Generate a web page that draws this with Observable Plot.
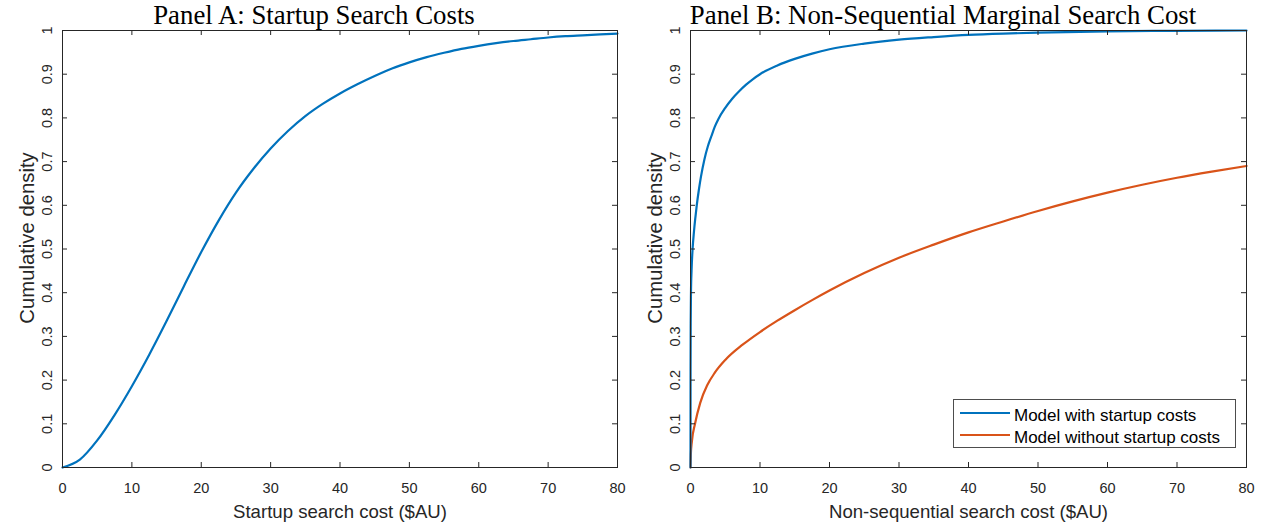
<!DOCTYPE html>
<html>
<head>
<meta charset="utf-8">
<script src="https://cdn.jsdelivr.net/npm/d3@7"></script>
<script src="https://cdn.jsdelivr.net/npm/@observablehq/plot@0.6"></script>
<style>
  body { margin: 0; background: #fff; }
  #wrap { position: relative; width: 1273px; height: 529px; overflow: hidden; background: #fff; }
  .panel { position: absolute; top: 0; }
  .title { position: absolute; top: 0; font-family: "Liberation Serif", "Times New Roman", serif; font-size: 26.8px; line-height: 30px; color: #000; white-space: nowrap; text-align: center; }
  #legend { position: absolute; left: 953px; top: 399px; width: 283px; height: 49px; border: 1px solid #4d4d4d; background: #fff; box-sizing: border-box; }
  #legend svg { position: absolute; left: 0; top: 0; }
</style>
</head>
<body>
<div id="wrap"></div>
<script>
// ---------- data ----------
const xTicks = [0, 10, 20, 30, 40, 50, 60, 70, 80];
const yTicks = [0, 0.1, 0.2, 0.3, 0.4, 0.5, 0.6, 0.7, 0.8, 0.9, 1];
const yTickLabels = ["0", "0.1", "0.2", "0.3", "0.4", "0.5", "0.6", "0.7", "0.8", "0.9", "1"];

// Panel A: startup search cost CDF
const startupX = [0, 2.5, 5, 7.5, 10, 12.5, 15, 17.5, 20, 22.5, 25, 27.5, 30, 32.5, 35, 37.5, 40, 42.5, 45, 47.5, 50, 52.5, 55, 57.5, 60, 62.5, 65, 67.5, 70, 72.5, 75, 77.5, 80];
const startupY = [0, 0.018, 0.062, 0.12, 0.186, 0.258, 0.335, 0.415, 0.493, 0.565, 0.629, 0.683, 0.730, 0.770, 0.804, 0.832, 0.856, 0.877, 0.896, 0.913, 0.927, 0.939, 0.949, 0.958, 0.965, 0.971, 0.976, 0.980, 0.984, 0.987, 0.989, 0.991, 0.993];

// Panel B: model with startup costs
const withX = [0, 0.01, 0.03, 0.07, 0.15, 0.3, 0.5, 0.7, 0.9, 1.2, 1.5, 2, 2.5, 3, 3.5, 4, 5, 6, 7, 8, 9, 10, 12.5, 15, 17.5, 20, 25, 30, 35, 40, 45, 50, 60, 70, 80];
const withY = [0, 0.22, 0.33, 0.40, 0.45, 0.50, 0.54, 0.572, 0.60, 0.635, 0.665, 0.705, 0.735, 0.758, 0.78, 0.797, 0.823, 0.844, 0.861, 0.876, 0.889, 0.90, 0.92, 0.935, 0.947, 0.957, 0.97, 0.979, 0.985, 0.99, 0.993, 0.995, 0.998, 0.9993, 1.0];

// Panel B: model without startup costs
const withoutX = [0, 0.05, 0.2, 0.65, 1.4, 2.4, 3.5, 5, 7.5, 10, 12.5, 15, 17.5, 20, 25, 30, 35, 40, 45, 50, 55, 60, 65, 70, 75, 80];
const withoutY = [0, 0.03, 0.06, 0.10, 0.148, 0.188, 0.217, 0.246, 0.281, 0.31, 0.336, 0.36, 0.383, 0.405, 0.445, 0.48, 0.51, 0.538, 0.563, 0.587, 0.609, 0.629, 0.647, 0.663, 0.677, 0.69];

const seriesNames = ["Model with startup costs", "Model without startup costs"];
const seriesColors = ["#0072BD", "#D95319"];

const titles = ["Panel A: Startup Search Costs", "Panel B: Non-Sequential Marginal Search Cost"];
const xLabels = ["Startup search cost ($AU)", "Non-sequential search cost ($AU)"];
const yLabel = "Cumulative density";

// ---------- drawing ----------
const axisColor = "#262626";
const sans = "'Liberation Sans', Arial, Helvetica, sans-serif";
const H = 529, mTop = 30, mBottom = 62;
const plotH = H - mTop - mBottom;

function panel({width, mLeft, mRight, lines, xLabel}) {
  const plotW = width - mLeft - mRight;
  return Plot.plot({
    width, height: H,
    marginLeft: mLeft, marginRight: mRight, marginTop: mTop, marginBottom: mBottom,
    x: {domain: [0, 80], axis: null},
    y: {domain: [0, 1], axis: null},
    style: {fontFamily: sans, color: axisColor, background: "white", overflow: "visible"},
    marks: [
      ...lines.map(l => Plot.line(l.x.map((x, i) => ({x, y: l.y[i]})), {x: "x", y: "y", stroke: l.color, strokeWidth: 2.2, curve: "monotone-x"})),
      Plot.frame({stroke: axisColor, strokeWidth: 1}),
      // inward ticks on all four sides
      Plot.tickX(xTicks, {x: d => d, insetTop: plotH - 5, stroke: axisColor}),
      Plot.tickX(xTicks, {x: d => d, insetBottom: plotH - 5, stroke: axisColor}),
      Plot.tickY(yTicks, {y: d => d, insetRight: plotW - 5, stroke: axisColor}),
      Plot.tickY(yTicks, {y: d => d, insetLeft: plotW - 5, stroke: axisColor}),
      // tick labels
      Plot.text(xTicks, {x: d => d, frameAnchor: "bottom", dy: 25, lineAnchor: "bottom", textAnchor: "middle", text: d => String(d), fontSize: 14.5, fill: axisColor}),
      Plot.text(yTicks, {y: d => d, frameAnchor: "left", dx: -11, rotate: -90, lineAnchor: "bottom", textAnchor: "middle", text: (d, i) => yTickLabels[i], fontSize: 14.5, fill: axisColor}),
      // axis labels
      Plot.text([xLabel], {frameAnchor: "bottom", dy: 50, lineAnchor: "bottom", textAnchor: "middle", text: d => d, fontSize: 18.6, fill: axisColor}),
      Plot.text([yLabel], {frameAnchor: "left", dx: -29, dy: -11, rotate: -90, lineAnchor: "bottom", textAnchor: "middle", text: d => d, fontSize: 20.3, fill: axisColor})
    ]
  });
}

const wrap = document.getElementById("wrap");

const pA = panel({width: 636, mLeft: 62, mRight: 19, xLabel: xLabels[0],
  lines: [{x: startupX, y: startupY, color: seriesColors[0]}]});
pA.classList.add("panel"); pA.style.left = "0px";
wrap.appendChild(pA);

const pB = panel({width: 637, mLeft: 54, mRight: 27, xLabel: xLabels[1],
  lines: [{x: withoutX, y: withoutY, color: seriesColors[1]}, {x: withX, y: withY, color: seriesColors[0]}]});
pB.classList.add("panel"); pB.style.left = "636px";
wrap.appendChild(pB);

// titles
const titleCenters = [314, 943];
titles.forEach((t, i) => {
  const d = document.createElement("div");
  d.className = "title";
  d.textContent = t;
  d.style.left = (titleCenters[i] - 300) + "px";
  d.style.width = "600px";
  wrap.appendChild(d);
});

// legend
const leg = document.createElement("div");
leg.id = "legend";
const ns = "http://www.w3.org/2000/svg";
const lsvg = document.createElementNS(ns, "svg");
lsvg.setAttribute("width", 281); lsvg.setAttribute("height", 47);
seriesNames.forEach((name, i) => {
  const y = 13 + i * 22;
  const ln = document.createElementNS(ns, "line");
  ln.setAttribute("x1", 6); ln.setAttribute("x2", 56);
  ln.setAttribute("y1", y); ln.setAttribute("y2", y);
  ln.setAttribute("stroke", seriesColors[i]); ln.setAttribute("stroke-width", 2.2);
  lsvg.appendChild(ln);
  const tx = document.createElementNS(ns, "text");
  tx.setAttribute("x", 60); tx.setAttribute("y", y + 8);
  tx.setAttribute("font-family", "Liberation Sans, Arial, sans-serif");
  tx.setAttribute("font-size", 17);
  tx.setAttribute("fill", "#000");
  tx.textContent = name;
  lsvg.appendChild(tx);
});
leg.appendChild(lsvg);
wrap.appendChild(leg);
</script>
</body>
</html>
